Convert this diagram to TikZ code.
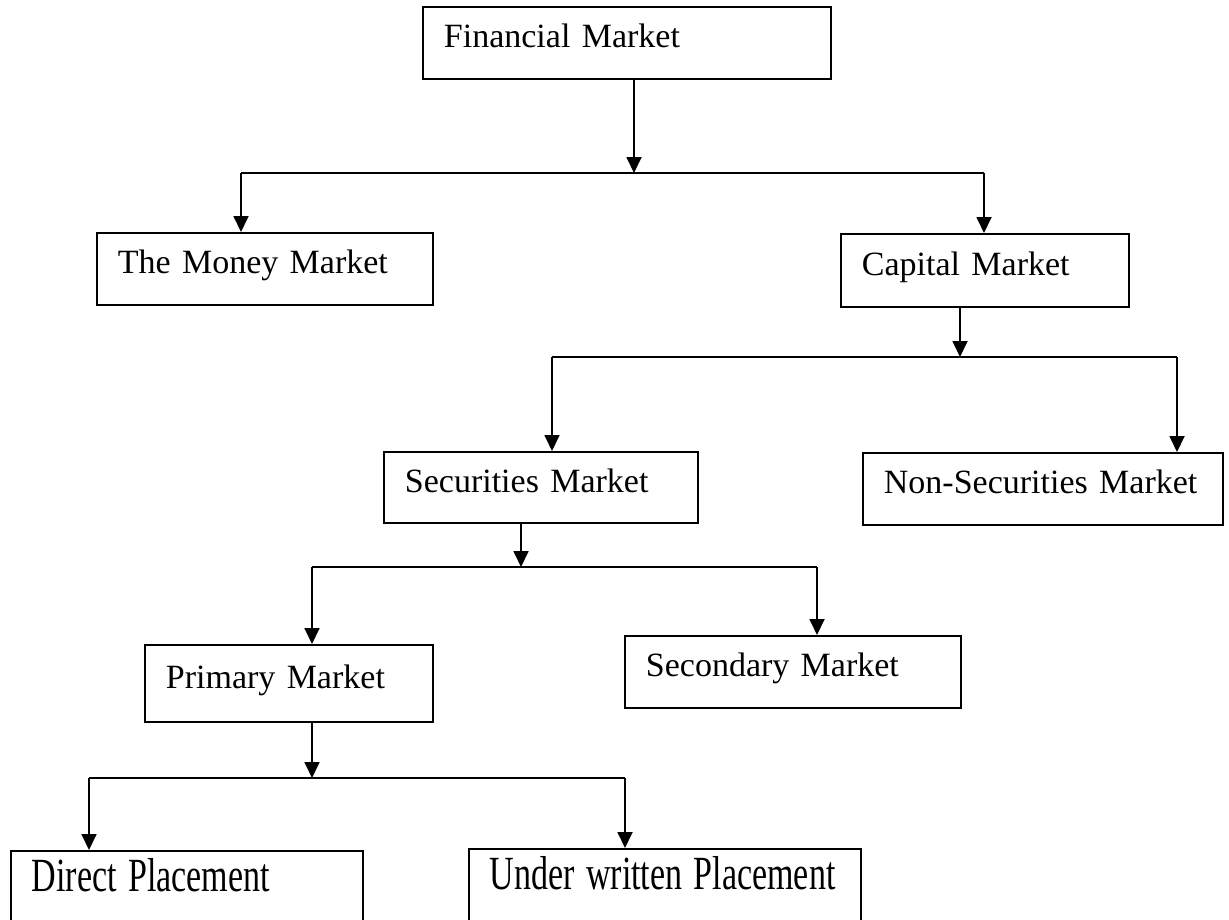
\documentclass[tikz,border=0pt]{standalone}
\usepackage{fontspec}
\setmainfont{Liberation Serif}
\usepackage{graphicx}
\usetikzlibrary{arrows.meta}

\begin{document}
\begin{tikzpicture}[x=1pt,y=-1pt,line width=1.8pt,>={Triangle[length=16pt,width=15pt]},
  mkt/.style={draw,rectangle,anchor=north west,inner xsep=21pt,inner ysep=0pt,
    minimum height=72pt,text height=24pt,text depth=14pt,align=left,
    font=\fontsize{34}{40}\selectfont}]
  \useasboundingbox (0,0) rectangle (1229,919);
  \node[mkt,text width=366pt] (fin) at (422,6) {Financial Market};
  \node[mkt,text width=294pt] (money) at (96,232) {The Money Market};
  \node[mkt,text width=246pt,minimum height=73pt] (capital) at (840,233) {Capital Market};
  \node[mkt,text width=272pt,minimum height=71pt] (sec) at (383,451) {Securities Market};
  \node[mkt,text width=318pt] (nonsec) at (862,452) {Non-Securities Market};
  \node[mkt,text width=246pt,minimum height=77pt] (primary) at (144,644) {Primary Market};
  \node[mkt,text width=294pt] (secondary) at (624,635) {Secondary Market};
  \node[mkt,text width=310pt,minimum height=90pt,text depth=32pt] (direct) at (10,850) {\scalebox{1}[1.4]{Direct Placement}};
  \node[mkt,text width=350pt,minimum height=90pt,text depth=32pt] (under) at (468,848) {\scalebox{1}[1.4]{Under written Placement}};
  % junctions
  \coordinate (j1) at (634,173);
  \coordinate (l1) at (241,173);
  \coordinate (r1) at (984,173);
  \coordinate (j2) at (960,357);
  \coordinate (l2) at (552,357);
  \coordinate (r2) at (1177,357);
  \coordinate (j3) at (521,567);
  \coordinate (l3) at (312,567);
  \coordinate (r3) at (817,567);
  \coordinate (j4) at (312,778);
  \coordinate (l4) at (89,778);
  \coordinate (r4) at (625,778);
  % level 1
  \draw[->] (fin.south -| j1) -- (j1);
  \draw (l1) -- (r1);
  \draw[->] (l1) -- (money.north -| l1);
  \draw[->] (r1) -- (capital.north -| r1);
  % level 2
  \draw[->] (capital.south -| j2) -- (j2);
  \draw (l2) -- (r2);
  \draw[->] (l2) -- (sec.north -| l2);
  \draw[->] (r2) -- (nonsec.north -| r2);
  % level 3
  \draw[->] (sec.south -| j3) -- (j3);
  \draw (l3) -- (r3);
  \draw[->] (l3) -- (primary.north -| l3);
  \draw[->] (r3) -- (secondary.north -| r3);
  % level 4
  \draw[->] (primary.south -| j4) -- (j4);
  \draw (l4) -- (r4);
  \draw[->] (l4) -- (direct.north -| l4);
  \draw[->] (r4) -- (under.north -| r4);
\end{tikzpicture}
\end{document}
